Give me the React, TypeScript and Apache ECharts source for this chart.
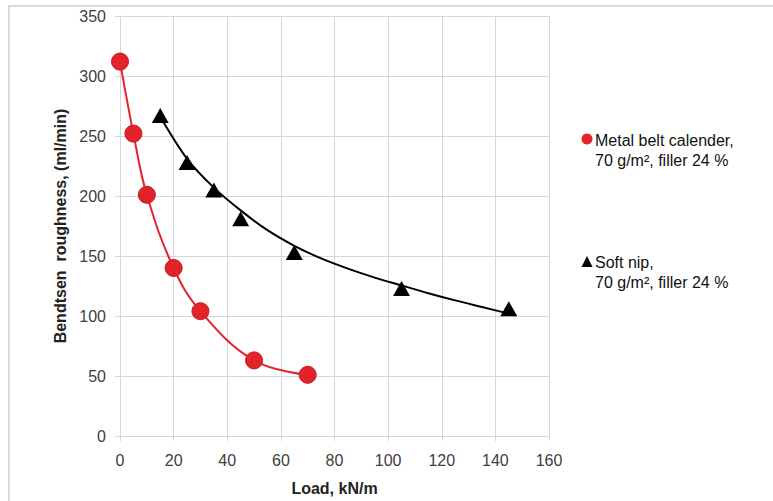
import React, { useEffect, useRef } from "react";
import * as echarts from "echarts";

const metalLoad = [0, 5, 10, 20, 30, 50, 70];
const metalRough = [312, 252, 201, 140, 104, 63, 51];

const softLoad = [15, 25, 35, 45, 65, 105, 145];
const softRough = [267, 228, 205, 181, 153, 123, 106];

const softTrendLoad = [15, 25, 35, 45, 55, 65, 75, 85, 95, 105, 115, 125, 135, 145];
const softTrend = [266, 231, 207, 188, 171.5, 158.5, 148, 139.5, 132, 125.5, 119, 113, 107.5, 102];

const xTicks = [0, 20, 40, 60, 80, 100, 120, 140, 160];
const yTicks = [0, 50, 100, 150, 200, 250, 300, 350];

const metalName = "Metal belt calender,";
const softName = "Soft nip,";
const subText = "70 g/m², filler 24 %";

const RED = "#e3232a";
const FONT = "'Liberation Sans', Arial, sans-serif";

export default function App() {
  const ref = useRef<HTMLDivElement>(null);
  useEffect(() => {
    if (!ref.current) return;
    const chart = echarts.init(ref.current, null, { renderer: "svg" });
    const gridColor = "#d6d6d6";
    chart.setOption({
      animation: false,
      backgroundColor: "#ffffff",
      textStyle: { fontFamily: FONT },
      grid: { left: 120, top: 16, width: 429, height: 420, containLabel: false },
      xAxis: {
        type: "value",
        min: xTicks[0],
        max: xTicks[xTicks.length - 1],
        interval: 20,
        name: "Load, kN/m",
        nameLocation: "middle",
        nameGap: 44,
        nameTextStyle: { fontFamily: FONT, fontSize: 16, fontWeight: "bold", color: "#222" },
        axisLine: { show: true, lineStyle: { color: gridColor, width: 1 } },
        axisTick: { show: true, length: 5, lineStyle: { color: gridColor } },
        axisLabel: { fontFamily: FONT, fontSize: 16, color: "#404040", margin: 16 },
        splitLine: { show: true, lineStyle: { color: gridColor, width: 1 } },
      },
      yAxis: {
        type: "value",
        min: yTicks[0],
        max: yTicks[yTicks.length - 1],
        interval: 50,
        name: "Bendtsen  roughness, (ml/min)",
        nameLocation: "middle",
        nameGap: 52,
        nameRotate: 90,
        nameTextStyle: { fontFamily: FONT, fontSize: 16, fontWeight: "bold", color: "#222" },
        axisLine: { show: true, lineStyle: { color: gridColor, width: 1 } },
        axisTick: { show: true, length: 5, lineStyle: { color: gridColor } },
        axisLabel: { fontFamily: FONT, fontSize: 16, color: "#404040", margin: 14 },
        splitLine: { show: true, lineStyle: { color: gridColor, width: 1 } },
      },
      series: [
        {
          name: softName,
          type: "line",
          data: softTrendLoad.map((x, i) => [x, softTrend[i]]),
          smooth: 0.3,
          showSymbol: false,
          symbol: "none",
          lineStyle: { color: "#000", width: 2 },
          z: 2,
        },
        {
          name: softName + " points",
          type: "scatter",
          data: softLoad.map((x, i) => [x, softRough[i]]),
          symbol: "triangle",
          symbolSize: [17, 15],
          itemStyle: { color: "#000", opacity: 1 },
          z: 3,
        },
        {
          name: metalName,
          type: "line",
          data: metalLoad.map((x, i) => [x, metalRough[i]]),
          smooth: 0.4,
          symbol: "circle",
          symbolSize: 17,
          showSymbol: true,
          lineStyle: { color: RED, width: 2 },
          itemStyle: { color: RED, borderColor: "#c41a20", borderWidth: 1, opacity: 1 },
          z: 4,
        },
      ],
      graphic: [
        {
          type: "rect",
          shape: { x: 9, y: 6, width: 800, height: 520 },
          style: { fill: "none", stroke: "#d0d0d0", lineWidth: 1.5 },
          silent: true,
          z: -10,
        },
        {
          type: "circle",
          shape: { cx: 587, cy: 139, r: 5.5 },
          style: { fill: RED },
        },
        {
          type: "text",
          x: 595,
          y: 130,
          style: {
            text: metalName + "\n" + subText,
            fontFamily: FONT,
            fontSize: 16,
            lineHeight: 20,
            fill: "#111",
          },
        },
        {
          type: "polygon",
          shape: { points: [[587, 256], [581.5, 267], [592.5, 267]] },
          style: { fill: "#000" },
        },
        {
          type: "text",
          x: 595,
          y: 252,
          style: {
            text: softName + "\n" + subText,
            fontFamily: FONT,
            fontSize: 16,
            lineHeight: 20,
            fill: "#111",
          },
        },
      ],
    });
    return () => chart.dispose();
  }, []);
  return (
    <div
      ref={ref}
      style={{ position: "fixed", left: 0, top: 0, width: 773, height: 501, background: "#fff" }}
    />
  );
}
